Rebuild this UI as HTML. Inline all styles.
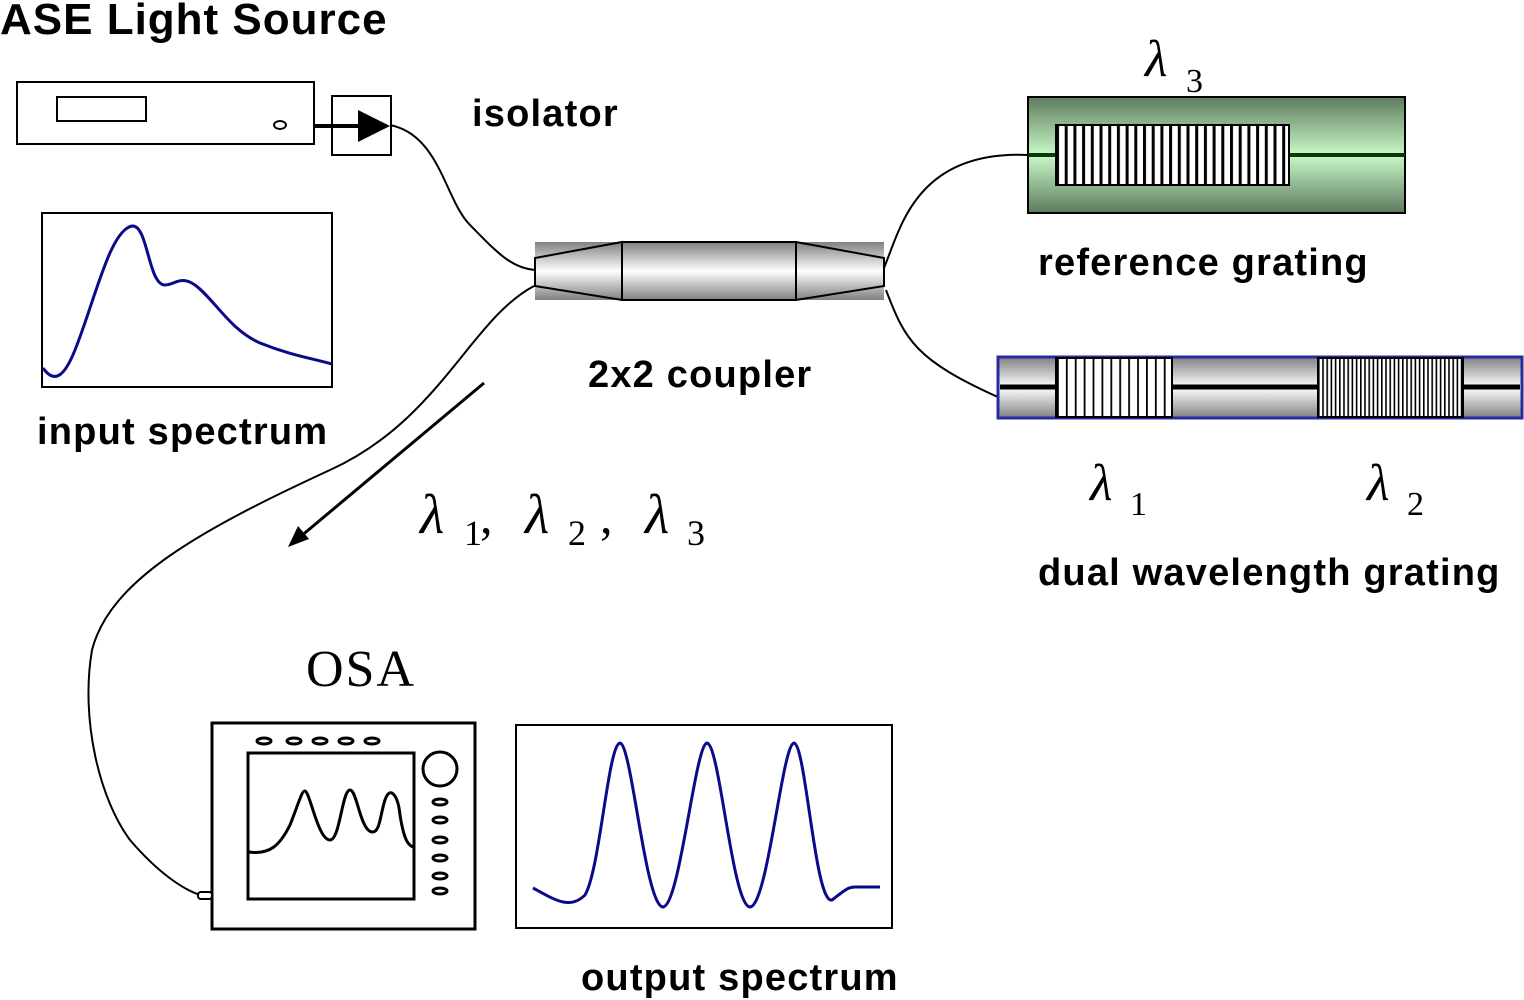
<!DOCTYPE html>
<html><head><meta charset="utf-8"><style>
html,body{margin:0;padding:0;background:#fff}
svg{display:block}
.b{font-family:"Liberation Sans",sans-serif;font-weight:bold;font-size:38px;letter-spacing:1.2px}
.s{font-family:"Liberation Serif",serif}
</style></head><body>
<svg width="1524" height="1000" viewBox="0 0 1524 1000" xmlns="http://www.w3.org/2000/svg">
<defs>
<linearGradient id="gg" x1="0" y1="0" x2="0" y2="1">
<stop offset="0" stop-color="#5e7a5e"/><stop offset="0.5" stop-color="#c8fac8"/><stop offset="1" stop-color="#5e7a5e"/></linearGradient>
<linearGradient id="gr" x1="0" y1="0" x2="0" y2="1">
<stop offset="0" stop-color="#808080"/><stop offset="0.5" stop-color="#ffffff"/><stop offset="1" stop-color="#808080"/></linearGradient>
<pattern id="p1" width="8.7" height="10" patternUnits="userSpaceOnUse" x="1056"><rect width="8.7" height="10" fill="#fff"/><rect width="3" height="10" fill="#000"/></pattern>
<pattern id="p2" width="8.9" height="10" patternUnits="userSpaceOnUse" x="1057"><rect width="8.9" height="10" fill="#fff"/><rect width="1.8" height="10" fill="#000"/></pattern>
<pattern id="p3" width="4.2" height="10" patternUnits="userSpaceOnUse" x="1318"><rect width="4.2" height="10" fill="#fff"/><rect width="1.6" height="10" fill="#000"/></pattern>
</defs>
<text x="0" y="34" class="b" style="font-size:44px;letter-spacing:1px">ASE Light Source</text>
<rect x="17" y="82" width="297" height="62" fill="#fff" stroke="#000" stroke-width="2"/>
<rect x="57" y="97" width="89" height="24" fill="none" stroke="#000" stroke-width="2"/>
<ellipse cx="280" cy="125" rx="6" ry="4" fill="none" stroke="#000" stroke-width="2"/>
<rect x="332" y="96" width="59" height="59" fill="#fff" stroke="#000" stroke-width="2"/>
<line x1="314" y1="126" x2="362" y2="126" stroke="#000" stroke-width="4"/>
<polygon points="358,110 390,126 358,142" fill="#000"/>
<text x="472" y="126" class="b">isolator</text>
<path d="M390,125 C440,135 445,200 470,225 C495,250 510,268 535,270" fill="none" stroke="#000" stroke-width="2"/>
<path d="M534,286 C470,320 440,420 330,470 C200,530 110,580 92,650 C80,720 100,800 130,840 C160,875 185,890 200,895" fill="none" stroke="#000" stroke-width="2"/>
<path d="M884,268 C900,230 915,150 1028,155" fill="none" stroke="#000" stroke-width="2"/>
<path d="M886,290 C905,340 915,360 1000,398" fill="none" stroke="#000" stroke-width="2"/>
<rect x="535" y="242" width="349" height="58" fill="url(#gr)"/>
<polygon points="535,258 622,242 622,300 535,286" fill="url(#gr)" stroke="#000" stroke-width="2"/>
<rect x="622" y="242" width="174" height="58" fill="url(#gr)" stroke="#000" stroke-width="2"/>
<polygon points="796,242 884,258 884,286 796,300" fill="url(#gr)" stroke="#000" stroke-width="2"/>
<text x="588" y="387" class="b">2x2 coupler</text>
<rect x="42" y="213" width="290" height="174" fill="#fff" stroke="#000" stroke-width="2"/>
<path d="M43,368 C55,385 65,375 75,350 C95,300 110,230 132,226 C148,224 148,285 165,285 C175,285 180,275 195,285 C215,300 230,330 260,343 C290,355 310,358 332,364" fill="none" stroke="#0a0a8a" stroke-width="3"/>
<text x="37" y="444" class="b">input spectrum</text>
<line x1="484" y1="383" x2="300" y2="537" stroke="#000" stroke-width="3"/>
<polygon points="288,547 298,526 309,539" fill="#000"/>
<g class="s" font-size="56" font-style="italic">
<text x="420" y="533">λ</text><text x="525" y="533">λ</text><text x="645" y="533">λ</text>
</g>
<g class="s" font-size="36">
<text x="464" y="545">1</text><text x="480" y="533" font-size="50">,</text>
<text x="568" y="545">2</text><text x="600" y="533" font-size="50">,</text>
<text x="687" y="545">3</text>
</g>
<text class="s" font-size="52" font-style="italic" x="1145" y="76">λ</text><text class="s" font-size="34" x="1186" y="92">3</text>
<rect x="1028" y="97" width="377" height="116" fill="url(#gg)" stroke="#000" stroke-width="2"/>
<line x1="1028" y1="155" x2="1405" y2="155" stroke="#0a3a0a" stroke-width="4"/>
<rect x="1056" y="125" width="233" height="60" fill="url(#p1)" stroke="#000" stroke-width="2"/>
<text x="1038" y="275" class="b">reference grating</text>
<rect x="998" y="357" width="524" height="61" fill="url(#gr)" stroke="#2a2aa0" stroke-width="3"/>
<line x1="1000" y1="387" x2="1520" y2="387" stroke="#000" stroke-width="5"/>
<rect x="1056" y="358" width="116" height="59" fill="url(#p2)" stroke="#000" stroke-width="2"/>
<rect x="1318" y="358" width="145" height="59" fill="url(#p3)" stroke="#000" stroke-width="2"/>
<text class="s" font-size="52" font-style="italic" x="1090" y="500">λ</text><text class="s" font-size="34" x="1130" y="515">1</text>
<text class="s" font-size="52" font-style="italic" x="1367" y="500">λ</text><text class="s" font-size="34" x="1407" y="515">2</text>
<text x="1038" y="585" class="b">dual wavelength grating</text>
<text class="s" font-size="52" x="306" y="686" letter-spacing="2">OSA</text>
<rect x="212" y="723" width="263" height="206" fill="#fff" stroke="#000" stroke-width="3"/>
<rect x="248" y="753" width="166" height="146" fill="#fff" stroke="#000" stroke-width="3"/>
<g fill="#fff" stroke="#000" stroke-width="3">
<ellipse cx="264" cy="741" rx="7" ry="3"/><ellipse cx="294" cy="741" rx="7" ry="3"/><ellipse cx="320" cy="741" rx="7" ry="3"/><ellipse cx="346" cy="741" rx="7" ry="3"/><ellipse cx="372" cy="741" rx="7" ry="3"/>
<ellipse cx="440" cy="802" rx="7" ry="3"/><ellipse cx="440" cy="820" rx="7" ry="3"/><ellipse cx="440" cy="840" rx="7" ry="3"/><ellipse cx="440" cy="858" rx="7" ry="3"/><ellipse cx="440" cy="876" rx="7" ry="3"/><ellipse cx="440" cy="891" rx="7" ry="3"/>
<circle cx="440" cy="769" r="17"/>
</g>
<path d="M249,852 C270,855 280,845 290,825 C298,805 302,790 305,791 C310,792 318,840 330,840 C340,840 342,790 350,790 C357,790 360,830 372,832 C380,833 380,815 385,800 C390,785 398,795 400,815 C404,840 408,845 413,847" fill="none" stroke="#000" stroke-width="3"/>
<rect x="198" y="892" width="14" height="7" rx="3" fill="#fff" stroke="#000" stroke-width="2"/>
<rect x="516" y="725" width="376" height="203" fill="#fff" stroke="#000" stroke-width="2"/>
<path d="M533,888 C555,900 570,910 585,895 C600,870 608,745 620,743 C632,745 645,905 663,907 C680,905 695,745 707,743 C720,745 732,905 750,907 C768,905 782,745 794,743 C806,745 815,905 832,900 C845,890 848,887 855,887 L880,887" fill="none" stroke="#0a0a8a" stroke-width="3"/>
<text x="581" y="990" class="b">output spectrum</text>
</svg>
</body></html>
